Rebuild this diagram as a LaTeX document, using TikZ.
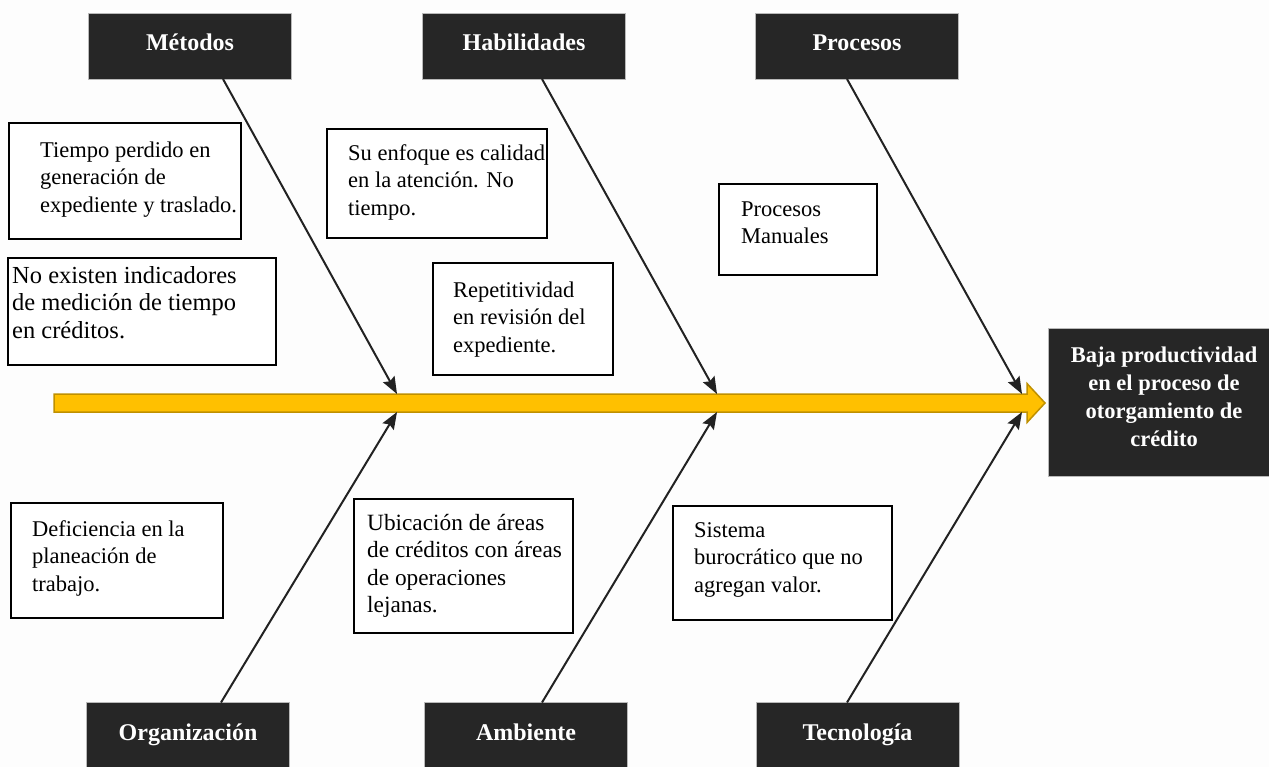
\documentclass[tikz,border=0pt]{standalone}
\usepackage{fontspec}
\setmainfont{Liberation Serif}
\usetikzlibrary{arrows.meta,calc}
\definecolor{hdrfill}{HTML}{262626}
\definecolor{spinefill}{HTML}{FFC000}
\definecolor{spinedraw}{HTML}{BF9000}
\definecolor{bonecol}{HTML}{222222}
\definecolor{pagebg}{HTML}{FDFDFD}
\tikzset{
  hdr/.style={draw=gray!55, line width=0.8pt, fill=hdrfill, text=white,
    font=\fontsize{24}{28}\selectfont\bfseries, minimum width=203pt,
    minimum height=66pt, inner sep=0pt, outer sep=0pt,
    text height=15pt, text depth=6pt},
  effectbox/.style={draw=gray!55, line width=0.8pt, fill=hdrfill,
    inner sep=0pt, outer sep=0pt, anchor=north west},
  effecttext/.style={anchor=north, inner sep=0pt, align=center, text=white,
    font=\fontsize{22.5}{28}\selectfont\bfseries},
  note/.style={draw=black, line width=1.2pt, fill=white, inner sep=0pt,
    outer sep=0pt, anchor=north west},
  notetext/.style={anchor=north west, inner sep=0pt, align=left,
    font=\fontsize{22.5}{27.5}\selectfont},
  bone/.style={draw=bonecol, line width=2pt,
    -{Stealth[length=17pt,width=13pt,inset=2.5pt]}},
}
\begin{document}
\begin{tikzpicture}[x=1pt,y=-1pt]
\useasboundingbox (0,0) rectangle (1269,767);
\clip (0,0) rectangle (1269,767);
\fill[pagebg] (0,0) rectangle (1269,767);

% cause categories
\node[hdr] (metodos) at (190,46) {Métodos};
\node[hdr] (habilidades) at (524,46) {Habilidades};
\node[hdr] (procesos) at (857,46) {Procesos};
\node[hdr] (organizacion) at (188,735.5) {Organización};
\node[hdr] (ambiente) at (526,735.5) {Ambiente};
\node[hdr] (tecnologia) at (857.5,735.5) {Tecnología};

% effect
\node[effectbox, minimum width=232pt, minimum height=148pt] (effect) at (1048,328) {};
\node[effecttext] (effectt) at ($(effect.north west)+(116,14.4)$)
  {\strut Baja productividad\\en el proceso de\\otorgamiento de\\crédito};

% spine
\draw[spinedraw, line width=1.5pt, fill=spinefill, line join=miter]
  (54,394) -- (1027,394) -- (1027,383.5) -- (1045,403) -- (1027,422.5)
  -- (1027,412) -- (54,412) -- cycle;

% bone end points on the spine
\coordinate (tm) at (397,394);
\coordinate (th) at (717,394);
\coordinate (tp) at (1022,394);
\coordinate (to) at (397,412);
\coordinate (ta) at (717,412);
\coordinate (tt) at (1022,412);

% cause notes
\node[note, minimum width=232pt, minimum height=116pt] (n1) at (9,123) {};
\node[notetext] (n1t) at ($(n1.north west)+(31,14.75)$)
  {\strut Tiempo perdido en\\generación de\\expediente y traslado.};

\node[note, minimum width=268pt, minimum height=107pt] (n2) at (8,258) {};
\node[notetext, font=\fontsize{24.5}{27.5}\selectfont] (n2t)
  at ($(n2.north west)+(4,5.75)$)
  {\strut No existen indicadores\\de medición de tiempo\\en créditos.};

\node[note, minimum width=220pt, minimum height=109pt] (n3) at (327,129) {};
\node[notetext] (n3t) at ($(n3.north west)+(21,11.75)$)
  {\strut Su enfoque es calidad\\en la atención. No\\tiempo.};

\node[note, minimum width=180pt, minimum height=112pt] (n4) at (433,263) {};
\node[notetext] (n4t) at ($(n4.north west)+(20,14.75)$)
  {\strut Repetitividad\\en revisión del\\expediente.};

\node[note, minimum width=158pt, minimum height=91pt] (n5) at (719,184) {};
\node[notetext] (n5t) at ($(n5.north west)+(22,12.75)$)
  {\strut Procesos\\Manuales};

\node[note, minimum width=212pt, minimum height=115pt] (n6) at (11,503) {};
\node[notetext] (n6t) at ($(n6.north west)+(21,13.75)$)
  {\strut Deficiencia en la\\planeación de\\trabajo.};

\node[note, minimum width=219pt, minimum height=134pt] (n7) at (354,499) {};
\node[notetext, font=\fontsize{23.3}{27.5}\selectfont] (n7t)
  at ($(n7.north west)+(13,11.75)$)
  {\strut Ubicación de áreas\\de créditos con áreas\\de operaciones\\lejanas.};

\node[note, minimum width=219pt, minimum height=114pt] (n8) at (673,506) {};
\node[notetext] (n8t) at ($(n8.north west)+(21,11.75)$)
  {\strut Sistema\\burocrático que no\\agregan valor.};

% bones
\draw[bone] ($(metodos.south)+(33,0)$) -- (tm);
\draw[bone] ($(habilidades.south)+(18,0)$) -- (th);
\draw[bone] ($(procesos.south)+(-10,0)$) -- (tp);
\draw[bone] ($(organizacion.north)+(33,0)$) -- (to);
\draw[bone] ($(ambiente.north)+(16,0)$) -- (ta);
\draw[bone] ($(tecnologia.north)+(-10.5,0)$) -- (tt);
\end{tikzpicture}
\end{document}
